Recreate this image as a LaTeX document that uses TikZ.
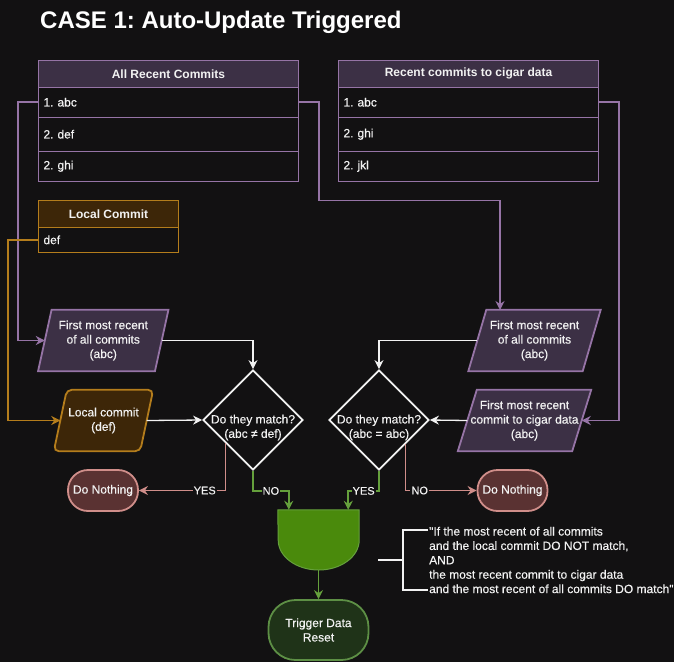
\documentclass[tikz,border=0pt]{standalone}
\usepackage{fontspec}
\setmainfont{Liberation Sans}
\newfontfamily\semib[FakeBold=0.35]{Liberation Sans}
\usetikzlibrary{shapes.geometric,arrows.meta,calc}
\definecolor{bg}{HTML}{121112}
\definecolor{wht}{HTML}{F2F2F2}
\definecolor{purpS}{HTML}{9674A6}
\definecolor{purpF}{HTML}{3C3045}
\definecolor{goldS}{HTML}{B47D1C}
\definecolor{goldF}{HTML}{3D2608}
\definecolor{redS}{HTML}{D08E8A}
\definecolor{redF}{HTML}{5A3232}
\definecolor{grnS}{HTML}{65A03C}
\definecolor{grnF}{HTML}{4A8A0C}
\definecolor{trigF}{HTML}{1F3318}
\definecolor{trigS}{HTML}{5D8F45}
\pgfdeclarelayer{canvas}
\pgfdeclarelayer{shapes}
\pgfsetlayers{canvas,shapes,main}
\frenchspacing
\begin{document}
\begin{tikzpicture}[x=1pt,y=-1pt,
  txt/.style={text=wht,font=\semib\fontsize{12}{14.4}\selectfont,align=center},
  hdrP/.style={draw=purpS,fill=purpF,line width=1pt,minimum width=260pt,inner sep=0,anchor=north west,text=wht,font=\bfseries\fontsize{12}{14.4}\selectfont},
  rowP/.style={draw=purpS,fill=bg,line width=1pt,text width=250pt,inner xsep=5pt,inner ysep=0,align=left,anchor=north west,text=wht,font=\semib\fontsize{12}{14.4}\selectfont},
  hdrG/.style={draw=goldS,fill=goldF,line width=1pt,minimum width=140pt,inner sep=0,anchor=north west,text=wht,font=\bfseries\fontsize{12}{14.4}\selectfont},
  rowG/.style={draw=goldS,fill=bg,line width=1pt,text width=130pt,inner xsep=5pt,inner ysep=0,align=left,anchor=north west,text=wht,font=\semib\fontsize{12}{14.4}\selectfont},
  pbox/.style={txt,inner sep=0},
  pshapeP/.style={draw=purpS,fill=purpF,line width=1.8pt},
  pshapeG/.style={draw=goldS,fill=goldF,line width=1.8pt,rounded corners=5pt},
  dia/.style={diamond,aspect=1,draw=wht,fill=bg,line width=1.8pt,minimum width=100pt,minimum height=100pt,inner sep=0},
  dnbox/.style={txt,draw=redS,fill=redF,line width=1.8pt,rounded corners=20pt,minimum width=70pt,minimum height=41pt,inner sep=0},
  trigbox/.style={txt,draw=trigS,fill=trigF,line width=1.8pt,rounded corners=27pt,minimum width=100pt,minimum height=60pt,inner sep=0},
  tip/.style={-{Stealth[length=9pt,width=9pt]}},
  parrow/.style={draw=purpS,line width=1.8pt,tip},
  garrow/.style={draw=goldS,line width=1.8pt,tip},
  warrow/.style={draw=wht,line width=1.3pt,tip},
  rarrow/.style={draw=redS,line width=1.8pt,tip},
  grarrow/.style={draw=grnS,line width=1.8pt,tip},
  lbl/.style={fill=bg,text=wht,font=\semib\fontsize{11}{13}\selectfont,inner sep=1pt}
]
\begin{pgfonlayer}{canvas}
\fill[bg] (0,0) rectangle (674,662);
\end{pgfonlayer}
\useasboundingbox (0,0) rectangle (674,662);

% title
\node[anchor=base west,inner sep=0,text=white,font=\bfseries\fontsize{24}{28}\selectfont] (title) at (40,28) {CASE 1: Auto-Update Triggered};

% table 1
\node[hdrP,minimum height=26.7pt] (ah) at (38,60) {All Recent Commits};
\node[rowP,minimum height=30pt] (a1) at (38,86.7) {1. abc};
\node[rowP,minimum height=34pt] (a2) at (38,116.7) {2. def};
\node[rowP,minimum height=30pt] (a3) at (38,150.7) {2. ghi};

% table 2
\node[hdrP,minimum height=26.7pt] (bh) at (338,60) {Recent commits to cigar data};
\node[rowP,minimum height=30pt] (b1) at (338,86.7) {1. abc};
\node[rowP,minimum height=34pt] (b2) at (338,116.7) {2. ghi};
\node[rowP,minimum height=30pt] (b3) at (338,150.7) {2. jkl};

% local commit table
\node[hdrG,minimum height=26.7pt] (lh) at (38,200) {Local Commit};
\node[rowG,minimum height=25.3pt] (l1) at (38,226.7) {def};

% parallelograms
\node[pbox,minimum width=116.5pt,minimum height=61pt] (p1) at (103.25,340.5) {First most recent\\of all commits\\(abc)};
\node[pbox,minimum width=86pt,minimum height=61pt] (lp) at (103.5,420.5) {Local commit\\(def)};
\node[pbox,minimum width=114pt,minimum height=61pt] (p2) at (534.5,340.5) {First most recent\\of all commits\\(abc)};
\node[pbox,minimum width=114pt,minimum height=61pt] (p3) at (524.5,420.5) {First most recent\\commit to cigar data\\(abc)};
\begin{pgfonlayer}{shapes}
\draw[pshapeP] ([xshift=6.75pt]p1.north west) -- ([xshift=6.75pt]p1.north east) -- ([xshift=-6.75pt]p1.south east) -- ([xshift=-6.75pt]p1.south west) -- cycle;
\draw[pshapeG] ([xshift=6.5pt]lp.north west) -- ([xshift=6.5pt]lp.north east) -- ([xshift=-6.5pt]lp.south east) -- ([xshift=-6.5pt]lp.south west) -- cycle;
\draw[pshapeP] ([xshift=9pt]p2.north west) -- ([xshift=9pt]p2.north east) -- ([xshift=-9pt]p2.south east) -- ([xshift=-9pt]p2.south west) -- cycle;
\draw[pshapeP] ([xshift=9.5pt]p3.north west) -- ([xshift=9.5pt]p3.north east) -- ([xshift=-9.5pt]p3.south east) -- ([xshift=-9.5pt]p3.south west) -- cycle;
\end{pgfonlayer}

% diamonds
\node[dia] (d1) at (253,420) {};
\node[txt,inner sep=0] (d1t) at (253,427.5) {Do they match?\\(abc ≠ def)};
\node[dia] (d2) at (379,420) {};
\node[txt,inner sep=0] (d2t) at (379,427.5) {Do they match?\\(abc = abc)};

% outcomes
\node[dnbox] (n1) at (103,490.5) {Do Nothing};
\node[dnbox] (n2) at (512.5,490.5) {Do Nothing};

% AND gate
\node[minimum width=81pt,minimum height=60pt,inner sep=0] (gate) at (318.5,540) {};
\begin{pgfonlayer}{shapes}
\draw[draw=grnS,fill=grnF,line width=1pt] (gate.north west) -- (gate.north east) -- (gate.east) arc[start angle=0,end angle=-180,x radius=40.5pt,y radius=30pt] -- cycle;
\end{pgfonlayer}
\coordinate (gin1) at ($(gate.north west)+(11pt,0)$);
\coordinate (gin2) at ($(gate.north east)+(-11pt,0)$);

\node[trigbox] (tr) at (318.5,630) {Trigger Data\\Reset};

% annotation
\node[txt,align=left,anchor=west,inner sep=0] (ann) at (429,560) {"If the most recent of all commits\\and the local commit DO NOT match,\\AND\\the most recent commit to cigar data\\and the most recent of all commits DO match"};
\coordinate (brT) at (428,530);
\coordinate (brB) at (428,590);
\coordinate (brM) at (403,560);
\draw[draw=wht,line width=1.3pt] (brT) -| (brB -| brM) -- (brB);
\draw[draw=wht,line width=1.3pt] (378,560) -- (brM);

% purple connectors
\draw[parrow] (a1.west) -- ++(-20,0) |- (p1.west);
\coordinate (p2in) at (500,310);
\draw[parrow] (a1.east) -- ++(20,0) -- ++(0,98.3) -| (p2in);
\draw[parrow] (b1.east) -- ++(20,0) |- (p3.east);
% gold connector
\draw[garrow] (l1.west) -- ++(-30,0) |- (lp.west);

% white connectors
\draw[warrow] (p1.east) -| (d1.north);
\draw[warrow] (lp.east) -- (d1.west);
\draw[warrow] (p2.west) -| (d2.north);
\draw[warrow] (p3.west) -- (d2.east);

% decisions
\draw[rarrow] ($(d1.west)!0.46!(d1.south)$) |- (n1.east) node[lbl,pos=0.62] {YES};
\draw[rarrow] ($(d2.east)!0.48!(d2.south)$) |- (n2.west) node[lbl,pos=0.6] {NO};
\draw[grarrow] (d1.south) -- ++(0,20) -| (gin1) node[lbl,pos=0.25] {NO};
\draw[grarrow] (d2.south) -- ++(0,20) -| (gin2) node[lbl,pos=0.25] {YES};
\draw[grarrow] (gate.south) -- (tr.north);
\end{tikzpicture}
\end{document}
